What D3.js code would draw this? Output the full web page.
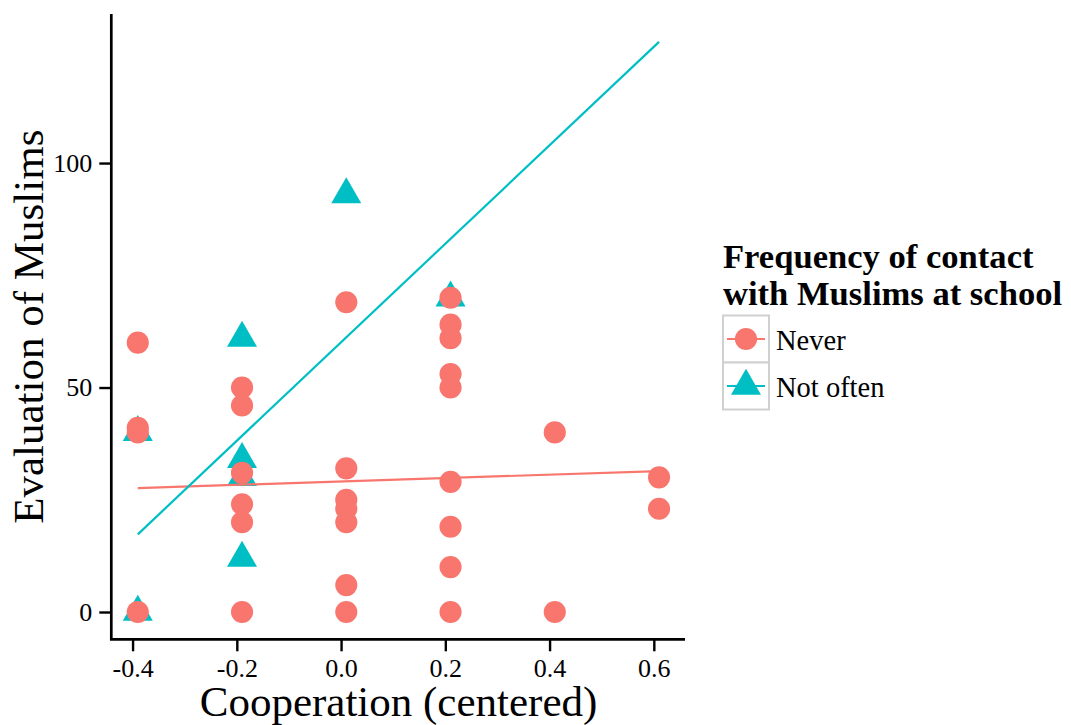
<!DOCTYPE html>
<html><head><meta charset="utf-8">
<script src="https://cdn.jsdelivr.net/npm/d3@7"></script>
<style>body{margin:0;background:#fff}svg{display:block}text{font-family:"Liberation Serif","Times New Roman",serif;fill:#000}</style>
</head><body>
<svg id="c" width="1071" height="725"></svg>
<script>
const groups = ["Never", "Not often"];
const groupColors = ["#F8766D", "#00BFC4"];
const neverX = [-0.39,-0.39,-0.39,-0.39, -0.19,-0.19,-0.19,-0.19,-0.19,-0.19, 0.01,0.01,0.01,0.01,0.01,0.01,0.01, 0.21,0.21,0.21,0.21,0.21,0.21,0.21,0.21,0.21, 0.41,0.41, 0.61,0.61];
const neverY = [60,41,40,0, 50,46,31,24,20,0, 69,32,25,23,20,6,0, 70,64,61,53,50,29,19,10,0, 40,0, 30,23];
const notOftenX = [-0.39,-0.39, -0.19,-0.19,-0.19,-0.19, 0.01, 0.21];
const notOftenY = [40,0, 61,34,30,12, 93, 70];
// fitted regression lines at the ends of the x range
const fitX = [-0.39, 0.61];
const neverFit = [27.6, 31.4];
const notOftenFit = [17.3, 127.0];
const xTicks = [-0.4,-0.2,0.0,0.2,0.4,0.6];
const yTicks = [0,50,100];
const xTitle = "Cooperation (centered)";
const yTitle = "Evaluation of Muslims";
const legendTitle = ["Frequency of contact","with Muslims at school"];

const svg = d3.select("#c");
const L=111.3, R=685, T=14, B=639.3;
const x = d3.scaleLinear().domain([-0.4408,0.6598]).range([L,R]);
const y = d3.scaleLinear().domain([-6.08,133.2]).range([B,T]);

const series = [
  {name:groups[0], color:groupColors[0], xs:neverX, ys:neverY, fit:neverFit, sym:d3.symbolCircle, size:385},
  {name:groups[1], color:groupColors[1], xs:notOftenX, ys:notOftenY, fit:notOftenFit, sym:d3.symbolTriangle, size:390}
];

// points: triangles first, then circles on top
[series[1],series[0]].forEach(s=>{
  svg.append("g").selectAll("path").data(s.xs.map((v,i)=>[v,s.ys[i]])).join("path")
    .attr("transform",d=>`translate(${x(d[0])},${y(d[1])})`)
    .attr("d",d3.symbol(s.sym,s.size)).attr("fill",s.color);
});
// regression lines
const lineGen = d3.line().x(d=>x(d[0])).y(d=>y(d[1]));
series.forEach(s=>{
  svg.append("path").attr("d",lineGen(fitX.map((v,i)=>[v,s.fit[i]])))
    .attr("fill","none").attr("stroke",s.color).attr("stroke-width",2.2);
});

// axes
const xa = svg.append("g").attr("transform",`translate(0,${B})`)
  .call(d3.axisBottom(x).tickValues(xTicks).tickFormat(d=>d<0?"-"+d3.format(".1f")(-d):d3.format(".1f")(d)).tickSizeOuter(0).tickSize(12));
const ya = svg.append("g").attr("transform",`translate(${L},0)`)
  .call(d3.axisLeft(y).tickValues(yTicks).tickFormat(d3.format("d")).tickSizeOuter(0).tickSize(12));
[xa,ya].forEach(a=>{
  a.select(".domain").remove();
  a.selectAll(".tick line").attr("stroke","#000").attr("stroke-width",2.4);
  a.selectAll(".tick text").attr("fill","#000").style("font-size","26px").style("font-family","Liberation Serif");
});
xa.selectAll(".tick text").attr("y",37.5).attr("dy",0);
ya.selectAll(".tick text").attr("x",-19);
svg.append("line").attr("x1",L-1.35).attr("x2",R).attr("y1",B).attr("y2",B).attr("stroke","#000").attr("stroke-width",2.7);
svg.append("line").attr("x1",L).attr("x2",L).attr("y1",T).attr("y2",B).attr("stroke","#000").attr("stroke-width",2.7);

svg.append("text").attr("x",398.5).attr("y",716).attr("text-anchor","middle")
  .style("font-size","43px").text(xTitle);
svg.append("text").attr("transform",`translate(43,326.7) rotate(-90)`).attr("text-anchor","middle")
  .style("font-size","43px").text(yTitle);

// legend
const lg = svg.append("g");
legendTitle.forEach((t,i)=>lg.append("text").attr("x",723).attr("y",268+i*37)
  .style("font-size","34.6px").style("font-weight","bold").text(t));
series.forEach((s,i)=>{
  const y0=315.5+i*47;
  lg.append("rect").attr("x",723).attr("y",y0).attr("width",46).attr("height",47)
    .attr("fill","#fff").attr("stroke","#d0d0d0").attr("stroke-width",2);
  lg.append("line").attr("x1",727).attr("x2",765).attr("y1",y0+23.5).attr("y2",y0+23.5)
    .attr("stroke",s.color).attr("stroke-width",2.2);
  lg.append("path").attr("transform",`translate(746,${y0+23.5})`).attr("d",d3.symbol(s.sym,s.size)).attr("fill",s.color);
  lg.append("text").attr("x",776).attr("y",y0+34).style("font-size","28.5px").text(s.name);
});
</script>
</body></html>
